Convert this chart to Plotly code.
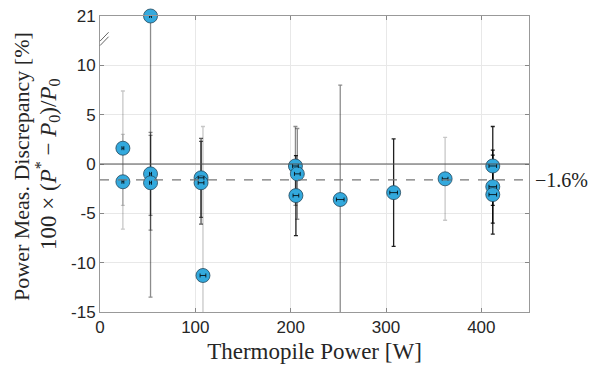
import plotly.graph_objects as go

# ---- data ----
power_w = [24, 24, 53, 53, 53, 106, 106, 108, 205, 207, 205.5, 252, 308, 362, 412, 412, 412]
discrepancy_pct = [1.6, -1.8, 21.0, -1.0, -1.9, -1.4, -1.9, -11.3, -0.2, -1.0, -3.2, -3.6, -2.9, -1.5, -0.2, -2.3, -3.1]
uncert_pct = [5.8, 4.8, 34.5, 4.2, 4.8, 4.0, 4.2, 15.1, 4.0, 4.6, 4.05, 11.6, 5.45, 4.2, 4.0, 3.7, 4.0]
power_err_w = [1, 1, 1, 1, 1, 3, 3, 3, 3, 3, 3, 4, 4, 3, 4, 4, 4]
bar_shade = ['light', 'light', 'mid', 'mid', 'mid', 'dark', 'dark', 'light', 'mid', 'mid',
             'black', 'mid', 'black', 'light', 'black', 'black', 'black']
mean_discrepancy = -1.6
ytick_true = [-15, -10, -5, 0, 5, 10, 21]
xtick_vals = [0, 100, 200, 300, 400]

# axis break: values above 10 are compressed so that 21 sits where 15 would be
BREAK_AT = 10
TOP_TRUE = 21
TOP_PLOT = 15


def T(v):
    if v <= BREAK_AT:
        return v
    return BREAK_AT + (v - BREAK_AT) * (TOP_PLOT - BREAK_AT) / (TOP_TRUE - BREAK_AT)


shade_color = {
    'light': 'rgba(0,0,0,0.22)',
    'mid': 'rgba(0,0,0,0.45)',
    'dark': 'rgba(0,0,0,0.65)',
    'black': 'rgba(0,0,0,0.88)',
}

serif = "Liberation Serif, Times New Roman, serif"
sans = "Liberation Sans, Arial, sans-serif"

fig = go.Figure()

# vertical error bars, grouped by shade
for shade in ['light', 'mid', 'dark', 'black']:
    idx = [i for i, s in enumerate(bar_shade) if s == shade]
    xs = [power_w[i] for i in idx]
    ys = [T(discrepancy_pct[i]) for i in idx]
    plus = [T(discrepancy_pct[i] + uncert_pct[i]) - T(discrepancy_pct[i]) for i in idx]
    minus = [T(discrepancy_pct[i]) - T(discrepancy_pct[i] - uncert_pct[i]) for i in idx]
    fig.add_trace(go.Scatter(
        x=xs, y=ys, mode='markers',
        marker=dict(size=1, opacity=0),
        error_y=dict(type='data', symmetric=False, array=plus, arrayminus=minus,
                     color=shade_color[shade], thickness=1.3, width=2),
        showlegend=False, hoverinfo='skip', cliponaxis=True,
    ))

# markers
fig.add_trace(go.Scatter(
    x=power_w, y=[T(v) for v in discrepancy_pct], mode='markers',
    marker=dict(size=14, color='#33a9dd', line=dict(color='#24475c', width=0.8)),
    showlegend=False, cliponaxis=False,
))

# small horizontal error bars on top
fig.add_trace(go.Scatter(
    x=power_w, y=[T(v) for v in discrepancy_pct], mode='markers',
    marker=dict(size=1, opacity=0),
    error_x=dict(type='data', array=power_err_w, color='rgba(0,0,0,0.8)', thickness=1, width=2),
    showlegend=False, hoverinfo='skip', cliponaxis=False,
))

# zero line and mean dashed line
fig.add_hline(y=0, line=dict(color='#555555', width=1))
fig.add_hline(y=mean_discrepancy, line=dict(color='#777777', width=1.2, dash='dash'))

fig.add_annotation(
    xref='paper', x=1.0, xanchor='left', xshift=4, y=mean_discrepancy, yref='y',
    text='\u22121.6%', showarrow=False, font=dict(family=serif, size=20, color='#222'),
)

# axis-break marks
for dy in (0.0, 0.45):
    fig.add_shape(type='line', xref='paper', yref='y',
                  x0=0.0, x1=0.02, y0=T(10) + 2.0 + dy, y1=T(10) + 2.9 + dy,
                  line=dict(color='#666666', width=1))

# y title (two lines as two annotations)
fig.add_annotation(
    xref='paper', yref='paper', x=0, y=0.49, xanchor='center', yanchor='middle', xshift=-78,
    textangle=-90, showarrow=False,
    text='Power Meas. Discrepancy [%]',
    font=dict(family=serif, size=22, color='#262626'),
)
fig.add_annotation(
    xref='paper', yref='paper', x=0, y=0.5, xanchor='center', yanchor='middle', xshift=-53,
    textangle=-90, showarrow=False,
    text='100 \u00d7 (<i>P</i><sup>*</sup> \u2212 <i>P</i><sub>0</sub>)/<i>P</i><sub>0</sub>',
    font=dict(family=serif, size=23, color='#262626'),
)

fig.update_xaxes(
    range=[0, 450], tickvals=xtick_vals, ticks='inside', ticklen=4, tickcolor='#888',
    showline=True, linecolor='#999999', linewidth=1, mirror='ticks',
    showgrid=True, gridcolor='#e8e8e8', zeroline=False, automargin=False,
    tickfont=dict(family=sans, size=17, color='#262626'),
    title=dict(text='Thermopile Power [W]', font=dict(family=serif, size=23, color='#262626'), standoff=6),
)
fig.update_yaxes(
    range=[-15, TOP_PLOT], tickvals=[T(v) for v in ytick_true], ticktext=[str(v) for v in ytick_true],
    ticks='inside', ticklen=4, tickcolor='#888',
    showline=True, linecolor='#999999', linewidth=1, mirror='ticks',
    showgrid=True, gridcolor='#e8e8e8', zeroline=False, automargin=False,
    tickfont=dict(family=sans, size=17, color='#262626'),
)

fig.update_layout(
    width=595, height=369,
    margin=dict(l=100, r=66, t=16, b=57),
    plot_bgcolor='white', paper_bgcolor='white',
)

fig.write_html("out.html", config={'displayModeBar': False},
               post_script="document.body.style.margin='0px';")
